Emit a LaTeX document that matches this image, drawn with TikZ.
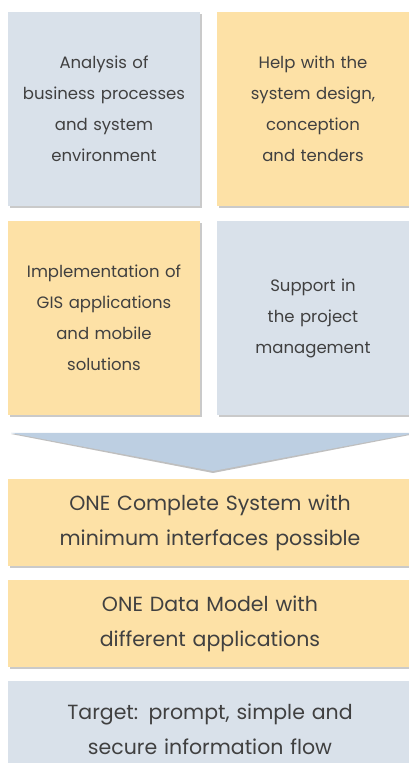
\documentclass[tikz,border=0pt]{standalone}
\usepackage{fontspec}
\setmainfont{Poppins}
\usetikzlibrary{shadows}
\definecolor{paleblue}{HTML}{D9E1EA}
\definecolor{paleorange}{HTML}{FDE1A6}
\definecolor{arrowblue}{HTML}{BDCFE2}
\definecolor{textgrey}{HTML}{404040}
\begin{document}
\begin{tikzpicture}[x=1pt,y=1pt,
    tile/.style={minimum width=192pt, minimum height=194pt, text width=186pt,
        align=center, inner sep=0pt, text=textgrey,
        font=\fontsize{16.5}{31}\selectfont,
        drop shadow={shadow xshift=1.5pt, shadow yshift=-2pt, fill=black!35, opacity=0.6}},
    band/.style={minimum width=404pt, minimum height=87pt, text width=390pt,
        align=center, inner sep=0pt, text=textgrey,
        font=\fontsize{20.5}{35}\selectfont,
        drop shadow={shadow xshift=1.5pt, shadow yshift=-2pt, fill=black!35, opacity=0.6}}]
    \useasboundingbox (0,0) rectangle (409,763);
    \clip (0,0) rectangle (409,763);
    % Four service tiles
    \node (analysis) [tile, fill=paleblue] at (104,654)
        {Analysis of\\business processes\\and system\\environment};
    \node (design) [tile, fill=paleorange] at (313,654)
        {Help with the\\system design,\\conception\\and tenders};
    \node (implement) [tile, fill=paleorange] at (104,445)
        {Implementation of\\GIS applications\\and mobile\\solutions};
    \node (support) [tile, fill=paleblue] at (313,445)
        {Support in\\the project\\management};
    % Wide arrow pointing down
    \fill[black!25] (11,329) -- (415,329) -- (213,290) -- cycle;
    \fill[arrowblue] (11,330) -- (415,330) -- (213,292) -- cycle;
    % Result bands
    \node (system) [band, fill=paleorange] at (210,240.5)
        {ONE Complete System with\\minimum interfaces possible};
    \node (model) [band, fill=paleorange] at (210,139.5)
        {ONE Data Model with\\different applications};
    \node (target) [band, fill=paleblue, minimum height=96pt] at (210,34)
        {Target: prompt, simple and\\secure information flow};
\end{tikzpicture}
\end{document}
